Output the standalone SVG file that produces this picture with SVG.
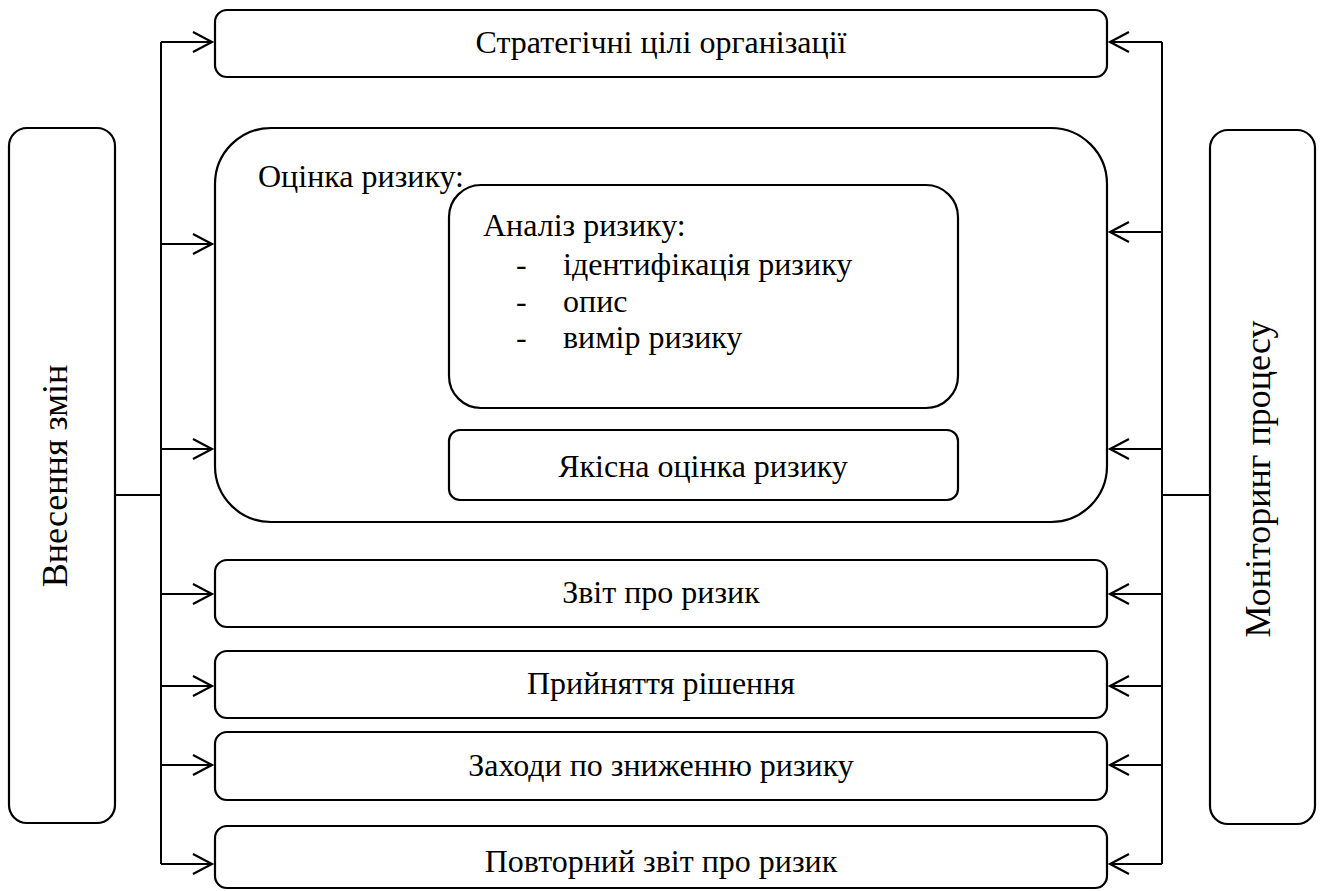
<svg xmlns="http://www.w3.org/2000/svg" width="1320" height="891" viewBox="0 0 1320 891">
<defs>
<style>
.box{fill:#fff;stroke:#000;stroke-width:2.2}
.ln{fill:none;stroke:#000;stroke-width:2}
.ah{fill:none;stroke:#000;stroke-width:2.2;stroke-linejoin:miter}
.t{font-family:'Liberation Serif','Times New Roman',serif;font-size:32px;fill:#000}
.side{font-size:36px;text-anchor:middle}
.c{text-anchor:middle}
</style>
</defs>
<rect width="1320" height="891" fill="#fff"/>
<g id="connectors">
<path class="ln" d="M161,42 V864 M115,495 H161"/>
<path class="ln" d="M161,42 H212 M161,244 H212 M161,449 H212 M161,594 H212 M161,686 H212 M161,765 H212 M161,864 H212"/>
<path class="ah" d="M193,32 L212,42 L193,52 M193,234 L212,244 L193,254 M193,439 L212,449 L193,459 M193,584 L212,594 L193,604 M193,676 L212,686 L193,696 M193,755 L212,765 L193,775 M193,854 L212,864 L193,874"/>
<path class="ln" d="M1162,42 V864 M1162,495 H1210"/>
<path class="ln" d="M1162,42 H1110 M1162,232 H1110 M1162,449 H1110 M1162,594 H1110 M1162,686 H1110 M1162,765 H1110 M1162,864 H1110"/>
<path class="ah" d="M1129,32 L1110,42 L1129,52 M1129,222 L1110,232 L1129,242 M1129,439 L1110,449 L1129,459 M1129,584 L1110,594 L1129,604 M1129,676 L1110,686 L1129,696 M1129,755 L1110,765 L1129,775 M1129,854 L1110,864 L1129,874"/>
</g>
<g id="n-left">
<rect class="box" x="9" y="128" width="106" height="695" rx="18"/>
<text class="t side" transform="translate(67,476) rotate(-90)">Внесення змін</text>
</g>
<g id="n-right">
<rect class="box" x="1210" y="130" width="105" height="694" rx="18"/>
<text class="t side" transform="translate(1270,479) rotate(-90)">Моніторинг процесу</text>
</g>
<g id="n-strategy">
<rect class="box" x="215" y="10" width="892" height="67" rx="12"/>
<text class="t c" x="661" y="53">Стратегічні цілі організації</text>
</g>
<g id="n-assessment">
<rect class="box" x="215" y="128" width="892" height="394" rx="56"/>
<text class="t" x="258" y="187">Оцінка ризику:</text>
</g>
<g id="n-analysis">
<rect class="box" x="449" y="185" width="509" height="223" rx="32"/>
<text class="t" x="483" y="236">Аналіз ризику:</text>
<text class="t" x="516" y="275">-</text>
<text class="t" x="563" y="275">ідентифікація ризику</text>
<text class="t" x="516" y="312">-</text>
<text class="t" x="563" y="312">опис</text>
<text class="t" x="516" y="348">-</text>
<text class="t" x="563" y="348">вимір ризику</text>
</g>
<g id="n-quality">
<rect class="box" x="449" y="430" width="509" height="70" rx="11"/>
<text class="t c" x="703" y="477">Якісна оцінка ризику</text>
</g>
<g id="n-report">
<rect class="box" x="215" y="560" width="892" height="67" rx="12"/>
<text class="t c" x="661" y="603">Звіт про ризик</text>
</g>
<g id="n-decision">
<rect class="box" x="215" y="651" width="892" height="67" rx="12"/>
<text class="t c" x="661" y="694">Прийняття рішення</text>
</g>
<g id="n-measures">
<rect class="box" x="215" y="732" width="892" height="68" rx="12"/>
<text class="t c" x="661" y="776">Заходи по зниженню ризику</text>
</g>
<g id="n-repeat">
<rect class="box" x="215" y="826" width="892" height="62" rx="12"/>
<text class="t c" x="661" y="872">Повторний звіт про ризик</text>
</g>
</svg>
